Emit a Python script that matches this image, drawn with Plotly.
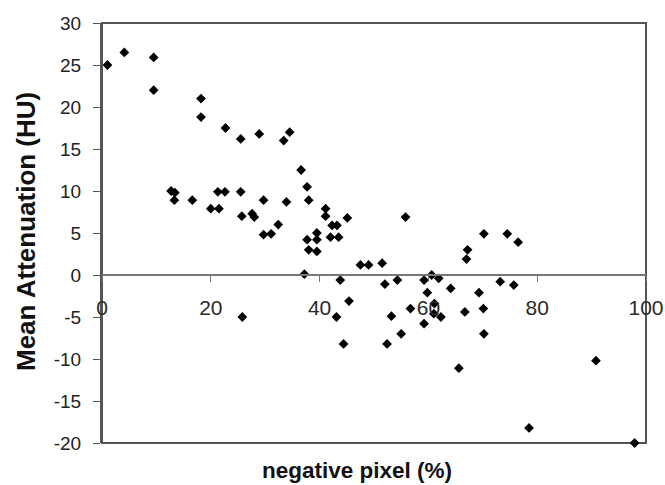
import plotly.graph_objects as go

negative_pixel = [1.0, 4.1, 9.5, 9.5, 18.2, 18.2, 22.7, 25.5, 28.9, 33.4, 34.5, 36.6, 37.7, 38.0,
                  12.7, 13.4, 13.3, 16.6, 20.0, 21.5, 21.3, 22.6, 25.5, 25.7, 27.6, 28.0, 29.7, 29.7,
                  31.1, 32.4, 33.9, 41.1, 41.1, 42.3, 43.2, 42.0, 43.5, 45.1, 37.7, 39.5, 39.5, 38.0,
                  39.5, 47.5, 49.0, 51.5, 55.8, 70.2, 74.5, 76.5, 67.2, 67.0, 52.0, 54.3, 59.2, 60.6,
                  61.9, 59.8, 64.1, 69.3, 73.2, 75.7, 56.7, 53.2, 61.1, 61.0, 62.3, 66.7, 70.1, 59.2,
                  55.0, 52.4, 70.2, 65.6, 90.8, 78.5, 97.9, 37.2, 43.8, 45.4, 43.1, 44.4, 25.8]
mean_attenuation = [25.0, 26.5, 25.9, 22.0, 21.0, 18.8, 17.5, 16.2, 16.8, 16.0, 17.0, 12.5, 10.5, 8.9,
                    10.0, 9.8, 8.9, 8.9, 7.9, 7.9, 9.9, 9.9, 9.9, 7.0, 7.3, 6.9, 8.9, 4.8,
                    4.9, 6.0, 8.7, 7.9, 7.0, 5.9, 5.9, 4.5, 4.5, 6.8, 4.2, 5.0, 4.2, 3.0,
                    2.8, 1.2, 1.2, 1.4, 6.9, 4.9, 4.9, 3.9, 3.0, 1.9, -1.1, -0.6, -0.6, 0.0,
                    -0.4, -2.1, -1.6, -2.1, -0.8, -1.2, -4.0, -4.9, -3.4, -4.6, -5.0, -4.4, -4.0, -5.8,
                    -7.0, -8.2, -7.0, -11.1, -10.2, -18.2, -20.0, 0.1, -0.6, -3.1, -5.0, -8.2, -5.0]

x_ticks = [0, 20, 40, 60, 80, 100]
y_ticks = [-20, -15, -10, -5, 0, 5, 10, 15, 20, 25, 30]
x_title = "negative pixel (%)"
y_title = "Mean Attenuation (HU)"

FONT = "Liberation Sans, Arial, sans-serif"

fig = go.Figure()
fig.add_trace(go.Scatter(
    x=negative_pixel, y=mean_attenuation, mode="markers",
    marker=dict(symbol="diamond", size=7.5, color="black"),
    cliponaxis=False, showlegend=False,
))

fig.update_layout(
    width=665, height=485,
    margin=dict(l=102, r=19, t=23, b=42),
    paper_bgcolor="white", plot_bgcolor="white",
    font=dict(family=FONT, color="#222"),
    xaxis=dict(
        range=[0, 100], tickvals=x_ticks, ticktext=[str(v) for v in x_ticks],
        anchor="free", position=0.4,
        showline=True, linecolor="#777", linewidth=1.5,
        ticks="outside", ticklen=6, tickcolor="#777", tickwidth=1,
        ticklabelstandoff=8,
        tickfont=dict(size=21, color="#2a2a2a"),
        showgrid=False, zeroline=False, automargin=False,
    ),
    yaxis=dict(
        range=[-20, 30], tickvals=y_ticks, ticktext=[str(v) for v in y_ticks],
        showline=True, linecolor="#555", linewidth=2,
        ticks="outside", ticklen=7, tickcolor="#555", tickwidth=1,
        ticklabelstandoff=8,
        tickfont=dict(size=19, color="#222"),
        showgrid=False, zeroline=False, automargin=False,
    ),
    shapes=[dict(type="rect", xref="paper", yref="paper", x0=0, x1=1, y0=0, y1=1,
                 line=dict(color="#555", width=2), layer="below")],
    annotations=[
        dict(text="<b>" + x_title + "</b>", xref="paper", yref="paper",
             x=(357 - 102) / 544, y=(443 - 470) / 420, xanchor="center", yanchor="middle",
             showarrow=False, font=dict(size=22.5, color="#111", family=FONT)),
        dict(text="<b>" + y_title + "</b>", xref="paper", yref="paper",
             x=0, xshift=-76, y=(443 - 232) / 420, xanchor="center", yanchor="middle",
             textangle=-90, showarrow=False, font=dict(size=26, color="#111", family=FONT)),
    ],
)

fig.write_html("out.html", config={"displayModeBar": False},
               post_script="document.body.style.margin='0';document.body.style.overflow='hidden';")
